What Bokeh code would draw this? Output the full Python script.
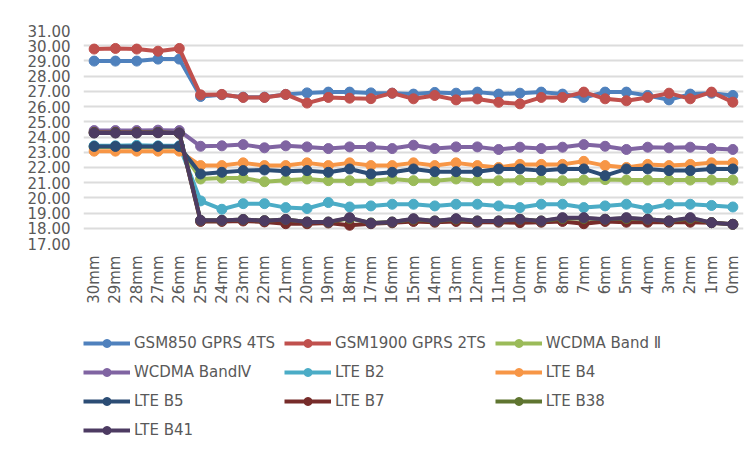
import math
from bokeh.plotting import figure
from bokeh.layouts import column
from bokeh.models import FactorRange, Range1d, FixedTicker, NumeralTickFormatter, Legend, LegendItem
from bokeh.embed import file_html
from bokeh.resources import INLINE

distances = ["30mm", "29mm", "28mm", "27mm", "26mm", "25mm", "24mm", "23mm", "22mm", "21mm",
             "20mm", "19mm", "18mm", "17mm", "16mm", "15mm", "14mm", "13mm", "12mm", "11mm",
             "10mm", "9mm", "8mm", "7mm", "6mm", "5mm", "4mm", "3mm", "2mm", "1mm", "0mm"]

gsm850 = [28.99, 28.99, 28.99, 29.12, 29.12, 26.66, 26.78, 26.62, 26.62, 26.8,
          26.9, 26.95, 26.95, 26.9, 26.88, 26.82, 26.93, 26.88, 26.95, 26.82,
          26.88, 26.95, 26.82, 26.6, 26.95, 26.95, 26.73, 26.44, 26.82, 26.88, 26.73]
gsm1900 = [29.78, 29.82, 29.78, 29.64, 29.82, 26.77, 26.8, 26.6, 26.6, 26.8,
           26.23, 26.6, 26.55, 26.52, 26.88, 26.51, 26.73, 26.44, 26.5, 26.28,
           26.18, 26.6, 26.6, 26.95, 26.51, 26.38, 26.6, 26.88, 26.51, 26.95, 26.29]
wcdma2 = [23.35, 23.35, 23.35, 23.35, 23.35, 21.24, 21.3, 21.3, 21.06, 21.16,
          21.24, 21.13, 21.13, 21.13, 21.24, 21.13, 21.13, 21.24, 21.13, 21.13,
          21.17, 21.17, 21.13, 21.17, 21.2, 21.17, 21.17, 21.17, 21.17, 21.17, 21.17]
wcdma4 = [24.42, 24.42, 24.42, 24.45, 24.42, 23.39, 23.42, 23.5, 23.29, 23.42,
          23.35, 23.24, 23.35, 23.35, 23.24, 23.46, 23.24, 23.35, 23.35, 23.18,
          23.33, 23.24, 23.33, 23.5, 23.39, 23.18, 23.33, 23.29, 23.33, 23.24, 23.18]
lte_b2 = [23.42, 23.42, 23.45, 23.42, 23.42, 19.8, 19.25, 19.62, 19.62, 19.36,
          19.3, 19.69, 19.4, 19.47, 19.58, 19.58, 19.47, 19.58, 19.58, 19.47,
          19.36, 19.58, 19.58, 19.36, 19.47, 19.58, 19.3, 19.58, 19.58, 19.5, 19.4]
lte_b4 = [23.07, 23.07, 23.07, 23.07, 23.07, 22.12, 22.12, 22.3, 22.12, 22.12,
          22.3, 22.12, 22.3, 22.12, 22.12, 22.3, 22.12, 22.3, 22.12, 22.0,
          22.2, 22.2, 22.2, 22.4, 22.12, 22.0, 22.2, 22.12, 22.2, 22.3, 22.3]
lte_b5 = [23.38, 23.38, 23.38, 23.38, 23.38, 21.57, 21.68, 21.79, 21.83, 21.75,
          21.79, 21.68, 21.9, 21.57, 21.68, 21.9, 21.72, 21.72, 21.72, 21.9,
          21.9, 21.79, 21.9, 21.9, 21.46, 21.9, 21.9, 21.79, 21.79, 21.9, 21.9]
lte_b7 = [24.3, 24.3, 24.3, 24.3, 24.25, 18.45, 18.45, 18.48, 18.42, 18.3,
          18.3, 18.35, 18.2, 18.3, 18.36, 18.45, 18.4, 18.45, 18.4, 18.4,
          18.37, 18.4, 18.45, 18.3, 18.45, 18.4, 18.4, 18.4, 18.4, 18.37, 18.26]
lte_b38 = [24.28, 24.28, 24.28, 24.3, 24.26, 18.52, 18.52, 18.58, 18.5, 18.58,
           18.41, 18.41, 18.65, 18.35, 18.41, 18.6, 18.48, 18.6, 18.48, 18.48,
           18.59, 18.48, 18.65, 18.65, 18.59, 18.65, 18.59, 18.48, 18.65, 18.37, 18.26]
lte_b41 = [24.26, 24.26, 24.26, 24.28, 24.26, 18.52, 18.52, 18.58, 18.5, 18.58,
           18.41, 18.41, 18.7, 18.33, 18.41, 18.63, 18.48, 18.63, 18.48, 18.48,
           18.59, 18.48, 18.7, 18.7, 18.59, 18.7, 18.59, 18.48, 18.7, 18.37, 18.26]

series_names = ["GSM850 GPRS 4TS", "GSM1900 GPRS 2TS", "WCDMA Band \u2161",
                "WCDMA Band\u2163", "LTE B2", "LTE B4", "LTE B5", "LTE B7", "LTE B38", "LTE B41"]
series_values = [gsm850, gsm1900, wcdma2, wcdma4, lte_b2, lte_b4, lte_b5, lte_b7, lte_b38, lte_b41]
series_colors = ["#4F81BD", "#C0504D", "#9BBB59", "#8064A2", "#4BACC6", "#F79646",
                 "#2C4D75", "#772C2A", "#5F7530", "#4D3B62"]
y_ticks = list(range(17, 32))

FONT = "DejaVu Sans"
TXT = "#595959"

p = figure(x_range=FactorRange(*distances), y_range=Range1d(17, 31),
           width=750, height=315, output_backend="svg", toolbar_location=None,
           min_border_left=83, min_border_right=7, min_border_top=30, min_border_bottom=72)
p.outline_line_color = None
p.background_fill_color = "white"
p.border_fill_color = "white"

p.xgrid.visible = False
p.ygrid.grid_line_color = "#DCDCDC"
p.ygrid.grid_line_width = 2

p.yaxis.ticker = FixedTicker(ticks=y_ticks)
p.yaxis.formatter = NumeralTickFormatter(format="0.00")
for ax in (p.xaxis[0], p.yaxis[0]):
    ax.axis_line_color = None
    ax.major_tick_line_color = None
    ax.minor_tick_line_color = None
    ax.major_tick_out = 0
    ax.major_tick_in = 0
    ax.minor_tick_out = 0
    ax.major_label_text_font = FONT
    ax.major_label_text_font_size = "15px"
    ax.major_label_text_color = TXT
    ax.major_label_standoff = 13
p.xaxis.major_label_standoff = 12
p.xaxis.major_label_orientation = math.pi / 2

# legend lives in its own strip below the chart; its renderers sit outside the strip's view
lg = figure(x_range=FactorRange(*distances), y_range=Range1d(100, 101), width=750, height=142,
            output_backend="svg", toolbar_location=None,
            x_axis_location=None, y_axis_location=None,
            min_border_left=0, min_border_right=0, min_border_top=0, min_border_bottom=0)
lg.outline_line_color = None
lg.xgrid.visible = False
lg.ygrid.visible = False
lg.border_fill_color = "white"

items = []
for name, vals, col in zip(series_names, series_values, series_colors):
    p.line(distances, vals, line_color=col, line_width=4)
    p.scatter(distances, vals, marker="circle", size=10, fill_color=col, line_color=col)
    l1 = lg.line(distances, vals, line_color=col, line_width=4)
    l2 = lg.scatter(distances, vals, marker="circle", size=10, fill_color=col, line_color=col)
    items.append(LegendItem(label=name, renderers=[l1, l2]))

legend = Legend(items=items, location=(0, 17), orientation="horizontal", ncols=3,
                label_text_font=FONT, label_text_font_size="15px", label_text_color=TXT,
                glyph_width=47, glyph_height=20, label_height=20, label_standoff=4,
                spacing=9, padding=0, margin=0, border_line_color=None,
                background_fill_alpha=0)
lg.add_layout(legend)

layout = column(p, lg, spacing=0)
open("out.html", "w").write(file_html(layout, INLINE))
